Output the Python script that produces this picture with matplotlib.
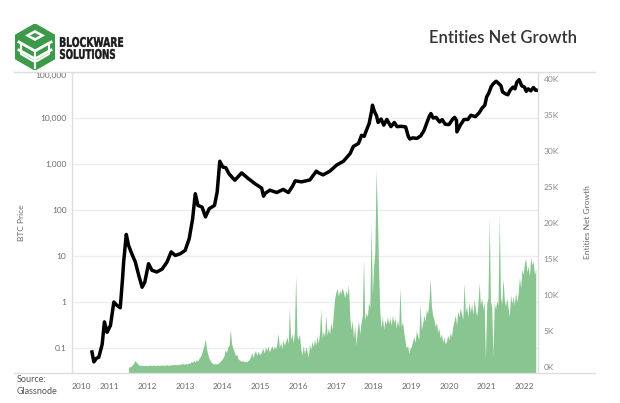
import numpy as np
import matplotlib.pyplot as plt
from matplotlib.lines import Line2D
from matplotlib.patches import Polygon, PathPatch
from matplotlib.textpath import TextPath
from matplotlib.font_manager import FontProperties
from matplotlib.transforms import Affine2D

# BTC price (log scale, left axis)
price_years = [2010.53, 2010.58, 2010.65, 2010.71, 2010.80, 2010.86, 2010.93, 2011.02,
               2011.11, 2011.19, 2011.28, 2011.34, 2011.37, 2011.44, 2011.50, 2011.59,
               2011.68, 2011.77, 2011.86, 2011.93, 2012.03, 2012.12, 2012.25, 2012.39,
               2012.52, 2012.63, 2012.74, 2012.87, 2013.00, 2013.11, 2013.20, 2013.27,
               2013.34, 2013.45, 2013.54, 2013.64, 2013.78, 2013.85, 2013.92, 2014.00,
               2014.08, 2014.16, 2014.26, 2014.32, 2014.50, 2014.68, 2014.86, 2015.03,
               2015.08, 2015.12, 2015.25, 2015.43, 2015.60, 2015.74, 2015.85, 2015.92,
               2016.09, 2016.31, 2016.48, 2016.53, 2016.66, 2016.84, 2017.02, 2017.20,
               2017.38, 2017.46, 2017.53, 2017.60, 2017.68, 2017.75, 2017.82, 2017.88,
               2017.95, 2017.97, 2018.02, 2018.08, 2018.12, 2018.20, 2018.27, 2018.35,
               2018.46, 2018.55, 2018.62, 2018.73, 2018.85, 2018.92, 2018.96, 2019.04,
               2019.15, 2019.25, 2019.34, 2019.42, 2019.48, 2019.52, 2019.58, 2019.66,
               2019.75, 2019.82, 2019.90, 2020.00, 2020.10, 2020.15, 2020.20, 2020.21,
               2020.30, 2020.40, 2020.50, 2020.58, 2020.70, 2020.80, 2020.88, 2020.95,
               2021.00, 2021.05, 2021.12, 2021.17, 2021.25, 2021.30, 2021.38, 2021.42,
               2021.50, 2021.56, 2021.62, 2021.70, 2021.75, 2021.80, 2021.86, 2021.93,
               2022.00, 2022.05, 2022.10, 2022.17, 2022.24, 2022.30, 2022.34]
price_vals = [0.082, 0.05, 0.06, 0.063, 0.12, 0.37, 0.22, 0.31,
              1.0, 0.85, 0.75, 3.2, 7.4, 29.5, 17, 11,
              7.4, 3.8, 2.1, 2.7, 6.8, 4.9, 4.5, 5.2,
              7.4, 12.3, 10.3, 11.2, 13.2, 24, 65, 226,
              126, 116, 71, 107, 126, 245, 1150, 860,
              830, 620, 500, 445, 640, 480, 370, 300,
              200, 230, 270, 240, 280, 240, 330, 430,
              410, 450, 700, 650, 580, 700, 950, 1150,
              1700, 2400, 2600, 2800, 4200, 4000, 5700, 7500,
              14500, 19000, 14000, 11000, 8000, 9500, 7000, 9300,
              6500, 8000, 6500, 6600, 6400, 4000, 3500, 3700,
              3600, 4100, 5400, 8200, 11000, 12500, 10000, 10300,
              8200, 9200, 7300, 7200, 9500, 10300, 8800, 5000,
              7000, 9300, 9300, 11500, 10700, 13000, 16500, 19000,
              29000, 34000, 48000, 55000, 63000, 58000, 50000, 37000,
              33500, 32000, 40000, 47000, 43000, 60000, 68000, 50000,
              47000, 38000, 43000, 39000, 46000, 40000, 40000]

# entities net growth in thousands, 30 readings per year (right axis)
g2011 = [0, 0, 0.1, 0.3, 0.5, 0.9, 0.7, 0.5, 0.3, 0.2, 0.3, 0.2, 0.2, 0.2, 0.2]
g2012 = [0.2, 0.2, 0.3, 0.2, 0.2, 0.3, 0.2, 0.2, 0.3, 0.2, 0.2, 0.3, 0.2, 0.3, 0.2,
         0.3, 0.3, 0.2, 0.3, 0.3, 0.3, 0.4, 0.3, 0.3, 0.4, 0.3, 0.4, 0.4, 0.5, 0.4]
g2013 = [0.4, 0.5, 0.4, 0.6, 0.5, 0.8, 0.6, 0.9, 0.7, 1.0, 0.8, 1.2, 1.4, 1.8, 2.4,
         3.0, 3.9, 2.6, 1.8, 1.2, 0.9, 0.6, 0.5, 0.4, 0.5, 0.4, 0.5, 0.6, 0.8, 1.0]
g2014 = [1.2, 1.6, 2.4, 2.0, 2.8, 3.0, 5.2, 3.2, 2.6, 2.2, 1.6, 1.8, 1.2, 1.0, 0.9,
         0.8, 0.9, 0.7, 0.8, 0.7, 0.9, 1.0, 1.4, 2.0, 1.3, 1.9, 2.3, 1.6, 2.2, 1.8]
g2015 = [1.8, 2.2, 2.6, 1.9, 2.8, 2.3, 2.9, 2.1, 2.5, 3.0, 2.4, 2.9, 2.5, 3.2, 4.7,
         2.7, 3.4, 2.6, 3.8, 3.0, 3.6, 4.2, 3.2, 8.2, 3.8, 4.6, 3.4, 4.9, 12.8, 4.4]
g2016 = [3.8, 4.6, 2.6, 1.6, 3.0, 1.8, 2.8, 2.2, 1.4, 3.2, 2.4, 3.6, 2.8, 3.9, 3.0,
         4.3, 3.3, 4.8, 8.0, 4.1, 5.0, 4.2, 7.3, 4.4, 5.4, 4.6, 6.2, 5.2, 7.5, 9.5]
g2017 = [10.4, 10.9, 9.8, 10.7, 10.2, 11.0, 10.4, 9.6, 10.6, 10.0, 11.5, 7.0, 5.2, 6.5, 4.0,
         5.8, 3.0, 5.2, 6.4, 4.6, 6.2, 7.0, 15.0, 6.5, 7.5, 7.0, 9.0, 8.2, 19.8, 10.0]
g2018 = [14.0, 16.0, 27.4, 21.0, 13.5, 7.5, 5.5, 7.0, 5.2, 6.5, 5.9, 7.0, 6.0, 6.8, 5.8,
         7.2, 6.2, 6.8, 5.4, 6.6, 5.5, 11.0, 5.6, 6.3, 4.8, 3.6, 2.6, 3.0, 1.9, 2.6]
g2019 = [2.8, 3.6, 4.2, 3.4, 5.0, 4.4, 3.8, 8.8, 5.2, 6.0, 7.2, 6.4, 8.0, 7.4, 9.0,
         12.3, 8.4, 7.2, 6.6, 5.6, 6.2, 4.8, 5.4, 4.0, 4.6, 3.4, 4.2, 3.2, 3.6, 4.4]
g2020 = [3.8, 4.8, 4.2, 5.6, 6.4, 7.2, 5.8, 7.8, 7.0, 8.2, 7.4, 6.6, 11.7, 7.6, 8.4,
         7.0, 9.0, 7.6, 8.8, 7.2, 9.4, 8.0, 7.0, 8.6, 11.7, 8.6, 9.6, 8.0, 9.0, 1.0]
g2021 = [8.8, 9.6, 20.7, 9.0, 8.4, 1.5, 9.0, 8.0, 9.2, 8.6, 21.0, 9.6, 8.8, 12.3, 9.4,
         8.4, 9.6, 8.2, 7.0, 10.0, 8.8, 9.8, 8.6, 10.4, 9.0, 10.2, 12.4, 11.0, 13.6, 12.8]
g2022 = [14.4, 15.1, 13.2, 14.0, 12.6, 15.2, 14.2, 14.7, 12.8, 13.6]
growth_segments = [(2011.5, g2011), (2012, g2012), (2013, g2013), (2014, g2014),
                   (2015, g2015), (2016, g2016), (2017, g2017), (2018, g2018),
                   (2019, g2019), (2020, g2020), (2021, g2021), (2022, g2022)]

year_ticks = list(range(2010, 2023))
price_ticks = [0.1, 1, 10, 100, 1000, 10000, 100000]
price_labels = ['0.1', '1', '10', '100', '1,000', '10,000', '100,000']
growth_ticks = [0, 5, 10, 15, 20, 25, 30, 35, 40]
growth_labels = ['%dK' % v for v in growth_ticks]

growth_years = np.concatenate([start + np.arange(len(v)) / 30 for start, v in growth_segments])
growth_vals = np.concatenate([v for _, v in growth_segments])

W, H = 620, 403
fig = plt.figure(figsize=(W / 100, H / 100), dpi=100)
plt.rcParams['font.family'] = ['Lato', 'DejaVu Sans']

L, R, T, B = 72, 538, 72, 373
ax = fig.add_axes([L / W, 1 - B / H, (R - L) / W, (B - T) / H])
ax.set_yscale('log')
ax.set_xlim(2010.0, 2010.0 + (R - L) / 37.7)
ax.set_ylim(10 ** (-1 - 25 / 46.07), 1e5)

ax.plot(price_years, price_vals, color='black', lw=2.5, solid_joinstyle='round', zorder=3)

ax.set_yticks(price_ticks)
ax.set_yticklabels(price_labels)
ax.yaxis.set_minor_locator(plt.NullLocator())
ax.set_xticks(year_ticks)
ax.set_xticklabels([str(y) for y in year_ticks])
ax.tick_params(axis='both', length=0, labelsize=6, labelcolor='#6a6a6a')
ax.tick_params(axis='y', pad=4)
ax.tick_params(axis='x', pad=7)
ax.get_xticklabels()[0].set_horizontalalignment('left')
ax.get_yticklabels()[-1].set_verticalalignment('top')
ax.grid(axis='y', color='#ececec', lw=0.9)
ax.set_axisbelow(True)
for s in ax.spines.values():
    s.set_visible(False)
ax.set_ylabel('BTC Price', fontsize=6, color='#6a6a6a')
ax.yaxis.set_label_coords((25 - L) / (R - L), 0.5)

ax2 = ax.twinx()
ax2.set_ylim(-0.833, 40.97)
ax2.fill_between(growth_years, growth_vals, -0.833, color='#88c590', lw=0, zorder=2)
ax2.set_yticks(growth_ticks)
ax2.set_yticklabels(growth_labels)
ax2.tick_params(axis='y', length=0, labelsize=6, labelcolor='#8a8a8a', pad=4)
for s in ax2.spines.values():
    s.set_visible(False)
ax2.set_ylabel('Entities Net Growth', fontsize=6, color='#6a6a6a')
ax2.yaxis.set_label_coords((584 - L) / (R - L), 0.5)

# axis frame lines in pixel positions
def hline(y, x0, x1):
    fig.add_artist(Line2D([x0 / W, x1 / W], [1 - y / H, 1 - y / H], color='#dedede', lw=1))

def vline(x, y0, y1):
    fig.add_artist(Line2D([x / W, x / W], [1 - y0 / H, 1 - y1 / H], color='#dedede', lw=1))

hline(T, 14, 595)
hline(B, 14, 595)
vline(L, T, B)
vline(R, T, B)

fig.text(577 / W, 1 - 38 / H, 'Entities Net Growth', ha='right', va='center',
         fontsize=12, color='#333333', fontweight='semibold')
fig.text(17 / W, 1 - 379 / H, 'Source:', ha='left', va='center', fontsize=6.5, color='#555555')
fig.text(17 / W, 1 - 391 / H, 'Glassnode', ha='left', va='center', fontsize=6.5, color='#555555')

# logo icon
lax = fig.add_axes([15 / W, 1 - 70 / H, 40 / W, 46 / H])
lax.set_xlim(0, 40)
lax.set_ylim(46, 0)
lax.axis('off')
hexagon = [(20, 0), (40, 11.5), (40, 34.5), (20, 46), (0, 34.5), (0, 11.5)]
lax.add_patch(Polygon(hexagon, closed=True, color='#3d9a4b'))
lax.add_patch(Polygon([(20, 6), (30, 11.5), (20, 17), (10, 11.5)], closed=True,
                      fc='white', ec='none'))
lax.add_patch(Polygon([(20, 9), (25, 11.5), (20, 14), (15, 11.5)], closed=True,
                      fc='#3d9a4b', ec='none'))
lax.plot([4, 20, 36], [18, 27, 18], color='white', lw=2)
lax.plot([4, 20, 36], [26, 35, 26], color='white', lw=2)
lax.plot([20, 20], [27, 44], color='white', lw=1.5)
lax.plot([6, 6, 18], [21, 30, 37], color='white', lw=1.5)
lax.plot([34, 34, 22], [21, 30, 37], color='white', lw=1.5)

# condensed logo lettering, squeezed into its pixel box
logo_font = FontProperties(family='DejaVu Sans', weight='bold')

def logo_word(word, x0, y_top, w, h):
    path = TextPath((0, 0), word, size=10, prop=logo_font)
    ext = path.get_extents()
    tr = (Affine2D().translate(-ext.x0, -ext.y0)
          .scale(w / ext.width, h / ext.height)
          .translate(x0, H - y_top - h).scale(1 / W, 1 / H))
    fig.add_artist(PathPatch(tr.transform_path(path), fc='#1a1a1a', ec='#1a1a1a',
                             lw=0.3, transform=fig.transFigure))

logo_word('BLOCKWARE', 60, 37, 63, 10)
logo_word('SOLUTIONS', 60, 49, 55, 10)

fig.savefig('out.png', dpi=100)
